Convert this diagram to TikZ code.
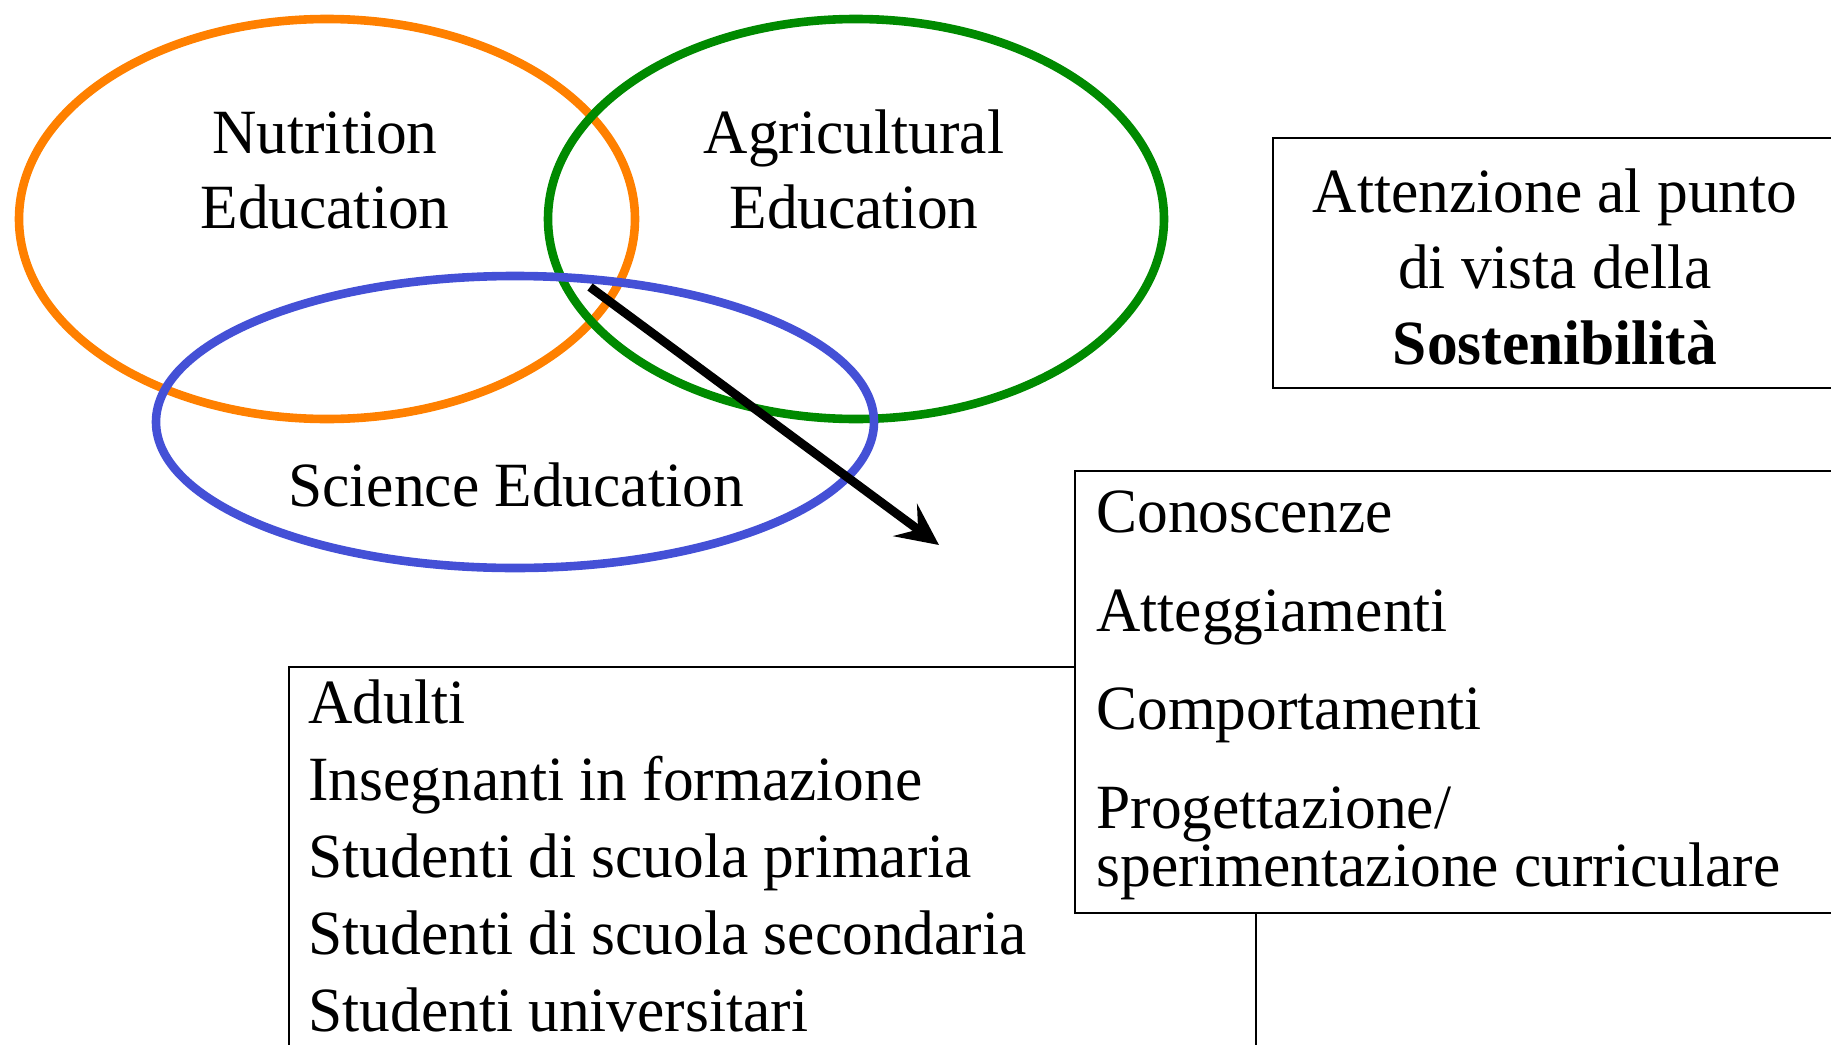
\documentclass[tikz,border=0pt]{standalone}
\usepackage{fontspec}
\setmainfont[FakeStretch=0.975]{Liberation Serif}
\usepackage{tikz}
\usetikzlibrary{arrows.meta}

\definecolor{nutrorange}{RGB}{255,128,0}
\definecolor{agrgreen}{RGB}{0,138,0}
\definecolor{sciblue}{RGB}{68,80,214}

\tikzset{
  venn/.style={line width=4.3pt},
  boxframe/.style={draw=black, line width=1pt, fill=white},
  vtext/.style={anchor=base, inner sep=0pt},
  itemtext/.style={anchor=base west, inner sep=0pt}
}

\begin{document}
\begin{tikzpicture}[x=0.5pt, y=-0.5pt, every node/.style={font=\fontsize{31.5}{38}\selectfont}]
        \useasboundingbox (0,0) rectangle (1831,1044);
        \clip (0,0) rectangle (1831,1044);

        % Draw the three ellipses
        \draw[venn, nutrorange] (327,219) ellipse (308 and 200);
        \draw[venn, agrgreen] (856,219) ellipse (308 and 200);
        \draw[venn, sciblue] (515,422) ellipse (359 and 146);

        % Labels of the ellipses
        \node[vtext] (nutr1) at (325,153) {Nutrition};
        \node[vtext] (nutr2) at (325,228) {Education};
        \node[vtext] (agr1) at (854,153) {Agricultural};
        \node[vtext] (agr2) at (854,228) {Education};
        \node[vtext] (sci) at (516,506) {Science Education};

        % Draw the arrow
        \coordinate (arrstart) at (590,287);
        \coordinate (arrend) at (939,545);
        \draw[line width=4.4pt, -{Stealth[length=21pt, width=20pt, inset=8pt]}] (arrstart) -- (arrend);

        % Draw the box on sustainability
        \draw[boxframe] (1273,138) rectangle (1900,388);
        \node[vtext] (sost1) at (1555,212) {Attenzione al punto};
        \node[vtext] (sost2) at (1555,288) {di vista della};
        \node[vtext] (sost3) at (1555,364) {\textbf{Sostenibilità}};

        % Draw the box of the target groups
        \draw[boxframe] (289,667) rectangle (1256,1100);
        \node[itemtext] (adu) at (308,723) {Adulti};
        \node[itemtext] (ins) at (308,800) {Insegnanti in formazione};
        \node[itemtext] (prim) at (308,877) {Studenti di scuola primaria};
        \node[itemtext] (sec) at (308,954) {Studenti di scuola secondaria};
        \node[itemtext] (univ) at (308,1031) {Studenti universitari};

        % Draw the box of the outcomes
        \draw[boxframe] (1075,471) rectangle (1900,913);
        \node[itemtext] (con) at (1096,532) {Conoscenze};
        \node[itemtext] (att) at (1096,631) {Atteggiamenti};
        \node[itemtext] (comp) at (1096,729) {Comportamenti};
        \node[itemtext] (prog1) at (1096,828) {Progettazione/};
        \node[itemtext] (prog2) at (1096,886) {sperimentazione curriculare};
\end{tikzpicture}
\end{document}
